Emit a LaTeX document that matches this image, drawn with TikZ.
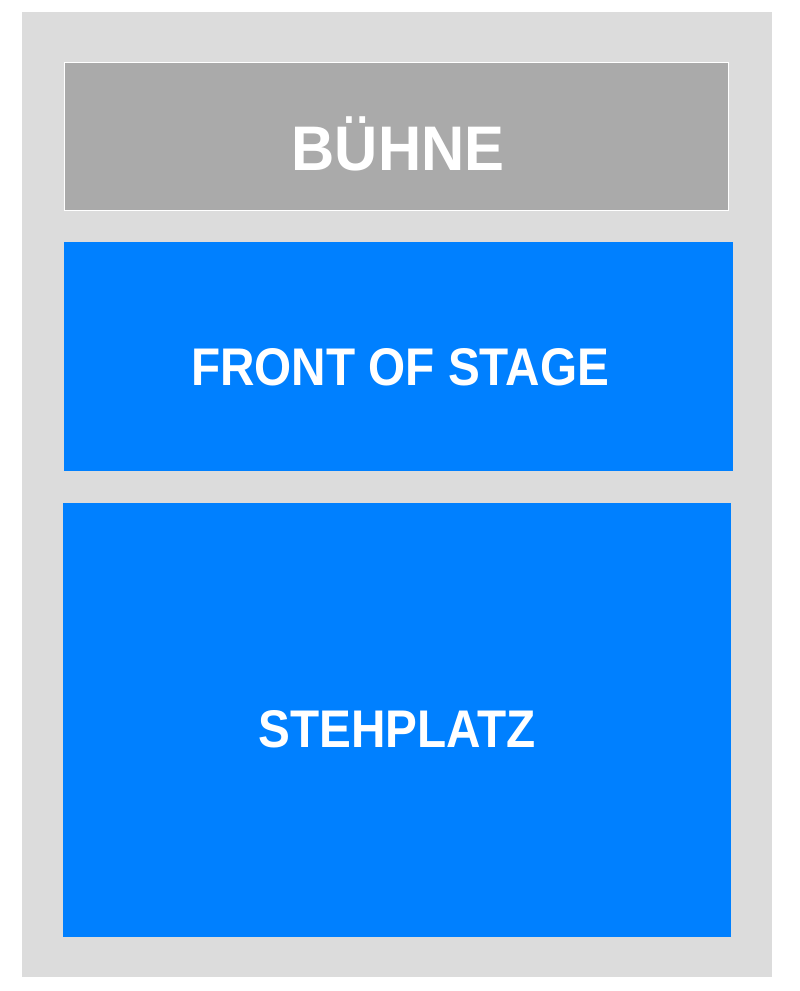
\documentclass[tikz,border=0pt]{standalone}
\usepackage{fontspec}
\setmainfont{Liberation Sans}
\usepackage{graphicx}
\definecolor{hall}{HTML}{DCDCDC}
\definecolor{stagegray}{HTML}{AAAAAA}
\definecolor{floorblue}{HTML}{0080FF}
\tikzset{
 area/.style={inner sep=0pt, anchor=north west},
 label/.style={text=white, anchor=base, font=\bfseries\fontsize{53}{53}\selectfont}
}
\begin{document}
\begin{tikzpicture}[x=1pt,y=-1pt]
 \useasboundingbox (0,0) rectangle (800,991);
 \fill[white] (0,0) rectangle (800,991);
 \fill[hall] (22,12) rectangle (772,977);
 % areas
 \node[area, fill=stagegray, draw=white, line width=1.2pt, minimum width=664pt, minimum height=148pt] (buehne) at (64,62) {};
 \node[area, fill=floorblue, minimum width=669pt, minimum height=229pt] (front) at (64,242) {};
 \node[area, fill=floorblue, minimum width=668pt, minimum height=434pt] (steh) at (63,503) {};
 % labels
 \node[label, font=\bfseries\fontsize{63}{63}\selectfont] (buehnetext) at (398,170) {\scalebox{0.95}[1]{BÜHNE}};
 \node[label] (fronttext) at (400,385) {\scalebox{0.9}[1]{FRONT OF STAGE}};
 \node[label] (stehtext) at (397,747) {\scalebox{0.9}[1]{STEHPLATZ}};
\end{tikzpicture}
\end{document}
